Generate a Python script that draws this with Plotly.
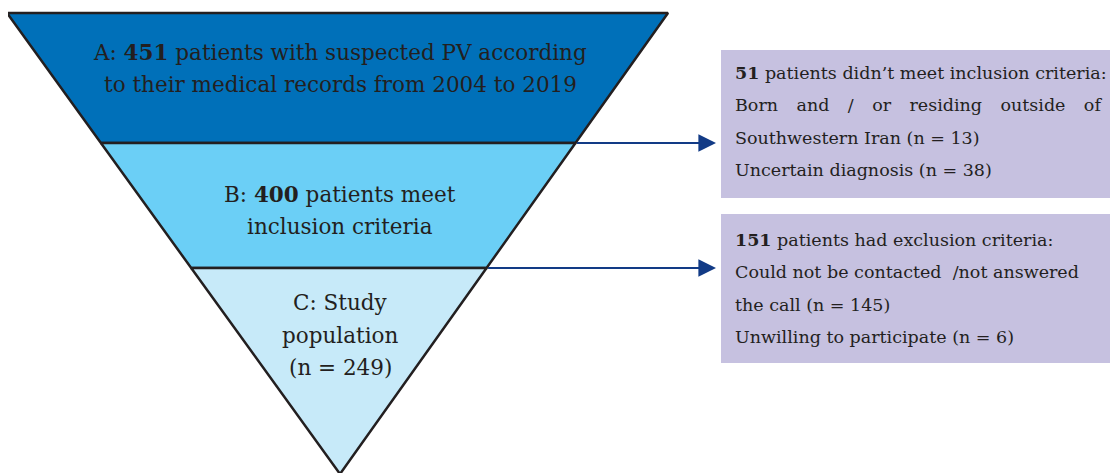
import plotly.graph_objects as go

# ---- data ----
level_names = ["A", "B", "C"]
level_counts = [451, 400, 249]
level_lines = [
    ["A: <b>451</b> patients with suspected PV according", "to their medical records from 2004 to 2019"],
    ["B: <b>400</b> patients meet", "inclusion criteria"],
    ["C: Study", "population", "(n = 249)"],
]
excluded_counts = [51, 151]
GAP = "\u00a0\u00a0\u00a0\u200a"
box_lines = [
    ["<b>51</b> patients didn\u2019t meet inclusion criteria:",
     GAP.join(["Born", "and", "/", "or", "residing", "outside", "of"]),
     "Southwestern Iran (n = 13)",
     "Uncertain diagnosis (n = 38)"],
    ["<b>151</b> patients had exclusion criteria:",
     "Could not be contacted\u00a0 /not answered",
     "the call (n = 145)",
     "Unwilling to participate (n = 6)"],
]

# ---- layout geometry (window-pixel canvas; page body has an 8px margin) ----
W, H = 1118, 473
PAD = 8
top_y, apex_y = 13, 474
left_top, right_top, apex_x = 7, 668, 340
bounds = [top_y, 143, 268, apex_y]
fills = ["#0070b9", "#6bcff6", "#c7eaf9"]
text_centers = [[52, 84], [194, 226], [302, 335, 367]]
box_x0, box_x1 = 721, 1118
box_y = [(50, 198), (214, 363)]
box_text_y = [[73, 105, 138, 170], [240, 272, 305, 337]]
SERIF = "DejaVu Serif"

def edge_x(y, side):
    t = (y - top_y) / (apex_y - top_y)
    if side == "L":
        return left_top + (apex_x - left_top) * t
    return right_top + (apex_x - right_top) * t

fig = go.Figure()
for i in range(3):
    y0, y1 = bounds[i], bounds[i + 1]
    xs = [edge_x(y0, "L"), edge_x(y0, "R"), edge_x(y1, "R"), edge_x(y1, "L"), edge_x(y0, "L")]
    ys = [y0, y0, y1, y1, y0]
    fig.add_trace(go.Scatter(x=xs, y=ys, mode="lines", fill="toself", fillcolor=fills[i],
                             line=dict(color="#231f20", width=2.5), hoverinfo="skip",
                             showlegend=False, cliponaxis=False))
    for ln, yy in zip(level_lines[i], text_centers[i]):
        fig.add_annotation(x=apex_x, y=yy, text=ln, showarrow=False, xanchor="center",
                           yanchor="middle",
                           font=dict(family=SERIF, size=21.5, color="#231f20"))

# boxes
for j, (y0, y1) in enumerate(box_y):
    fig.add_shape(type="rect", x0=box_x0, x1=box_x1, y0=y0, y1=y1,
                  fillcolor="#c6c1e0", line=dict(width=0), layer="below")
    for ln, yy in zip(box_lines[j], box_text_y[j]):
        fig.add_annotation(x=733, y=yy, text=ln, showarrow=False, xanchor="left",
                           yanchor="middle",
                           font=dict(family=SERIF, size=17.5, color="#231f20"))

# arrows
for k, yb in enumerate([bounds[1], bounds[2]]):
    fig.add_annotation(x=716, y=yb, ax=edge_x(yb, "R"), ay=yb, xref="x", yref="y",
                       axref="x", ayref="y", text="", showarrow=True, arrowhead=2,
                       arrowsize=1.6, arrowwidth=2.2, arrowcolor="#123b86")

fig.update_layout(width=W - PAD, height=H - PAD, margin=dict(l=0, r=0, t=0, b=0),
                  paper_bgcolor="white", plot_bgcolor="white",
                  xaxis=dict(range=[PAD, W], visible=False, fixedrange=True),
                  yaxis=dict(range=[H, PAD], visible=False, fixedrange=True))
fig.write_html("out.html")
